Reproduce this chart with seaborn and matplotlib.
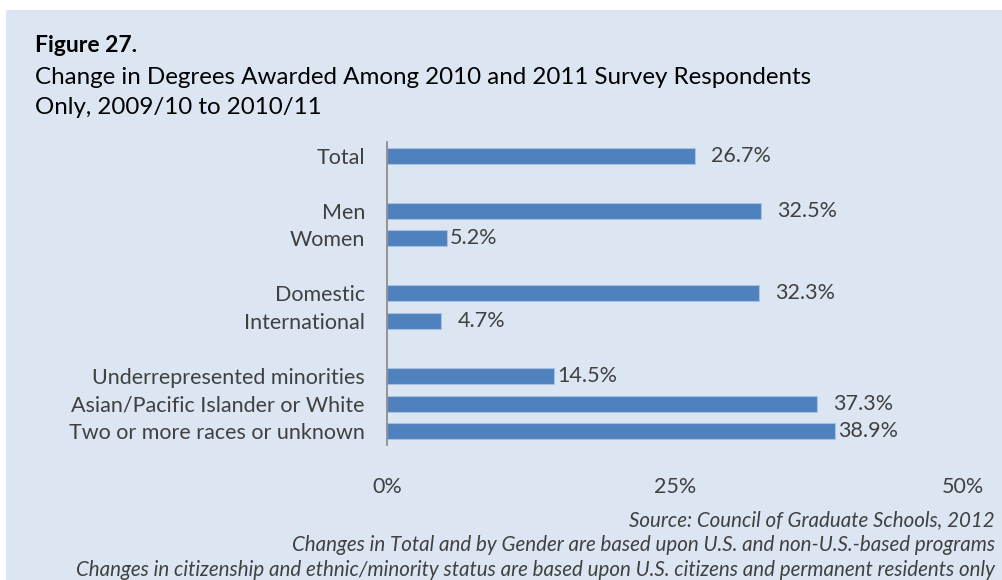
import pandas as pd
import matplotlib.pyplot as plt
import seaborn as sns
from matplotlib.patches import Rectangle

# Groups of categories (a blank slot is left between groups)
groups = [
    ["Total"],
    ["Men", "Women"],
    ["Domestic", "International"],
    ["Underrepresented minorities", "Asian/Pacific Islander or White",
     "Two or more races or unknown"],
]
values = [
    [26.7],
    [32.5, 5.2],
    [32.3, 4.7],
    [14.5, 37.3, 38.9],
]
x_ticks = [0, 25, 50]
x_tick_labels = ["0%", "25%", "50%"]

# Build the table, spacer rows have no value
labels = []
pcts = []
for i, (g, v) in enumerate(zip(groups, values)):
    if i > 0:
        labels.append(" " * i)
        pcts.append(float("nan"))
    labels += g
    pcts += v
df = pd.DataFrame({"label": labels, "pct": pcts})

sns.set_style("white")
plt.rcParams['font.family'] = ['Lato', 'DejaVu Sans']

fig = plt.figure(figsize=(10.03, 5.80), dpi=100)
fig.patches.append(Rectangle((6 / 1003, 0), 1, 1 - 10 / 580, transform=fig.transFigure,
                             facecolor="#dce6f2", edgecolor="none", zorder=-10))

ax = fig.add_axes([0.386, 0.233, 0.574, 0.522])
ax.set_facecolor("none")

sns.barplot(data=df, x="pct", y="label", order=labels, color="#4f81bd",
            saturation=1, width=0.58, edgecolor="#a7c1e3", linewidth=0.8, ax=ax)

# value labels (Excel placed some closer to the bar end than others)
pads = [16, 16, 3, 16, 16, 3, 16, 3]
bars = [b for b in ax.patches if b.get_width() == b.get_width() and b.get_width() > 0]
for b, p in zip(bars, pads):
    ax.annotate(f"{b.get_width():.1f}%", (b.get_width(), b.get_y() + b.get_height() / 2),
                xytext=(p, 0), textcoords="offset pixels",
                ha="left", va="center", fontsize=15.5, color="#404040")

ax.set_xlim(0, 50)
ax.set_ylim(len(labels) - 0.5, -0.5)
ax.set_xticks(x_ticks, x_tick_labels)
ax.tick_params(axis="x", length=0, pad=23, labelsize=15.5, labelcolor="#404040")
ax.tick_params(axis="y", length=0, pad=16, labelsize=15.5, labelcolor="#404040")
for t in ax.get_xticklabels():
    t.set_x(t.get_position()[0])
ax.set_xlabel("")
ax.set_ylabel("")
for s in ["top", "right", "bottom"]:
    ax.spines[s].set_visible(False)
ax.spines["left"].set_color("#868686")
ax.spines["left"].set_linewidth(1.2)

fig.text(35 / 1003, 1 - 45 / 580, "Figure 27.", fontsize=16.5, fontweight="bold",
         color="black", va="center")
fig.text(35 / 1003, 1 - 78 / 580,
         "Change in Degrees Awarded Among 2010 and 2011 Survey Respondents",
         fontsize=17.4, color="black", va="center")
fig.text(35 / 1003, 1 - 108 / 580, "Only, 2009/10 to 2010/11",
         fontsize=17.4, color="black", va="center")

notes = [
    "Source: Council of Graduate Schools, 2012",
    "Changes in Total and by Gender are based upon U.S. and non-U.S.-based programs",
    "Changes in citizenship and ethnic/minority status are based upon U.S. citizens and permanent residents only",
]
for i, n in enumerate(notes):
    fig.text(995 / 1003, 1 - (520 + 25 * i) / 580, n, fontsize=14.8, style="italic",
             color="#404040", ha="right", va="center")

fig.savefig("out.png", dpi=100)
